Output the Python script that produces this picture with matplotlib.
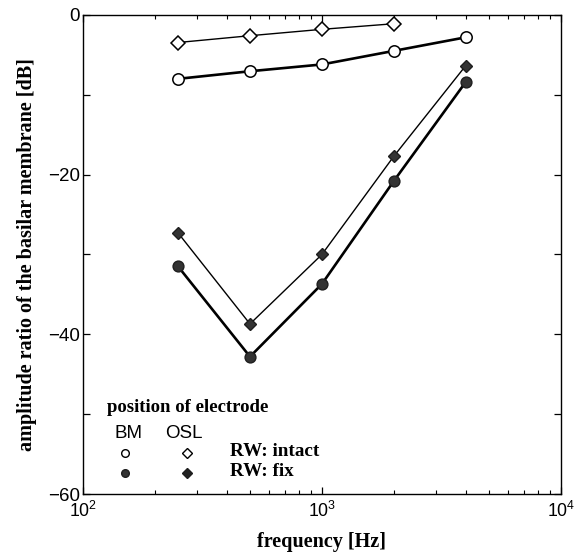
import matplotlib
matplotlib.use("Agg")
import matplotlib.pyplot as plt
from matplotlib.ticker import LogLocator, NullFormatter, FixedLocator

plt.rcParams['mathtext.fontset'] = 'custom'
plt.rcParams['mathtext.rm'] = 'Liberation Sans'
plt.rcParams['mathtext.it'] = 'Liberation Sans'

freq_bm_intact = [250, 500, 1000, 2000, 4000]
bm_intact = [-8.0, -7.05, -6.2, -4.5, -2.8]
freq_osl_intact = [250, 500, 1000, 2000]
osl_intact = [-3.45, -2.6, -1.8, -1.1]
freq_fix = [250, 500, 1000, 2000, 4000]
bm_fix = [-31.5, -42.8, -33.7, -20.8, -8.4]
osl_fix = [-27.3, -38.7, -30.0, -17.7, -6.35]

y_ticks = [-60, -50, -40, -30, -20, -10, 0]
y_labels = ['\u221260', '', '\u221240', '', '\u221220', '', '0']

fig = plt.figure(figsize=(5.74, 5.54), dpi=100)
ax = fig.add_axes([0.1446, 0.1083, 0.977 - 0.1446, 0.973 - 0.1083])

dark = '#1e1e1e'
ax.plot(freq_bm_intact, bm_intact, '-o', color='black', lw=1.9, ms=8.2,
        mfc='white', mec='black', mew=1.1, zorder=3)
ax.plot(freq_osl_intact, osl_intact, '-D', color='black', lw=1.0, ms=6.8,
        mfc='white', mec='black', mew=1.1, zorder=3)
ax.plot(freq_fix, bm_fix, '-o', color='black', lw=1.9, ms=7.8,
        mfc='#333333', mec=dark, mew=1.0, zorder=3)
ax.plot(freq_fix, osl_fix, '-D', color='black', lw=1.0, ms=6.0,
        mfc='#333333', mec=dark, mew=1.0, zorder=3)

ax.set_xscale('log')
ax.set_xlim(100, 10000)
ax.set_ylim(-60, 0)
ax.set_xticks([100, 1000, 10000])
ax.set_xticklabels(['$10^2$', '$10^3$', '$10^4$'])
ax.xaxis.set_minor_locator(LogLocator(base=10, subs=range(2, 10)))
ax.xaxis.set_minor_formatter(NullFormatter())
ax.yaxis.set_major_locator(FixedLocator(y_ticks))
ax.set_yticklabels(y_labels)

ax.tick_params(which='both', direction='in', top=True, right=True)
ax.tick_params(which='major', length=5, width=0.9)
ax.tick_params(axis='y', which='major', pad=2, labelsize=13.5)
ax.tick_params(axis='x', which='major', pad=5, labelsize=12.8)
ax.tick_params(which='minor', length=3, width=0.8)
for lab in ax.get_xticklabels() + ax.get_yticklabels():
    lab.set_fontfamily('Liberation Sans')
for s in ax.spines.values():
    s.set_linewidth(1.0)

ax.set_xlabel('frequency [Hz]', fontfamily='Liberation Serif', fontweight='bold',
              fontsize=14.5, labelpad=8)
ax.set_ylabel('amplitude ratio of the basilar membrane [dB]', fontfamily='Liberation Serif',
              fontweight='bold', fontsize=14.5, labelpad=8)

# legend block (figure pixel coords)
W, H = 574, 554
def fx(px):
    return px / W
def fy(py):
    return 1 - py / H

fig.text(fx(107), fy(407), 'position of electrode', fontfamily='Liberation Serif',
         fontweight='bold', fontsize=13.5, va='center', ha='left')
fig.text(fx(128), fy(433), 'BM', fontfamily='Liberation Sans', fontsize=13.5,
         va='center', ha='center')
fig.text(fx(184), fy(433), 'OSL', fontfamily='Liberation Sans', fontsize=13.5,
         va='center', ha='center')
fig.text(fx(230), fy(452), 'RW: intact', fontfamily='Liberation Serif',
         fontweight='bold', fontsize=13.8, va='center', ha='left')
fig.text(fx(230), fy(472), 'RW: fix', fontfamily='Liberation Serif',
         fontweight='bold', fontsize=13.8, va='center', ha='left')
lax = fig.add_axes([0, 0, 1, 1], facecolor='none')
lax.set_xlim(0, W)
lax.set_ylim(H, 0)
lax.axis('off')
lax.plot([125], [452.5], 'o', ms=5.5, mfc='white', mec='black', mew=1.0)
lax.plot([187], [452.5], 'D', ms=4.8, mfc='white', mec='black', mew=1.0)
lax.plot([125], [472.5], 'o', ms=5.5, mfc='#333333', mec=dark, mew=1.0)
lax.plot([187], [472.5], 'D', ms=4.8, mfc='#222222', mec=dark, mew=1.0)

fig.savefig('out.png', dpi=100)
